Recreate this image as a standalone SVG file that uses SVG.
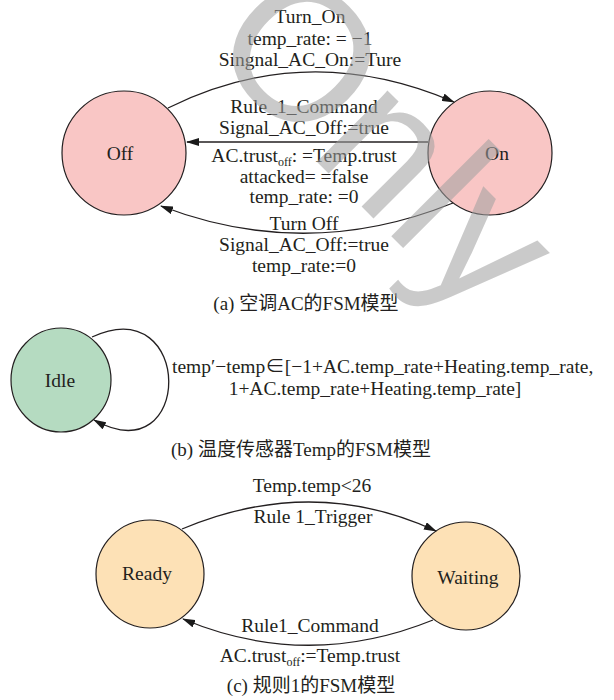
<svg xmlns="http://www.w3.org/2000/svg" width="614" height="700" viewBox="0 0 614 700">
<defs>
<marker id="arr" markerWidth="13" markerHeight="8" refX="12" refY="4" orient="auto" markerUnits="userSpaceOnUse">
<path d="M0,0 L13,4 L0,8 Z" fill="#1a1a1a"/>
</marker>
<style>
text{font-family:"Liberation Serif","Noto Sans CJK SC",serif;font-size:19.5px;fill:#231f20;text-anchor:middle}
.node{stroke:#231f20;stroke-width:1.2}
.pink{fill:#f9c6c5}
.green{fill:#b5dbc1}
.peach{fill:#fde1b6}
.edge{fill:none;stroke:#231f20;stroke-width:1.3}
.sub{font-size:12px}
.cap{font-size:19px}
.wm{font-family:"Liberation Sans",sans-serif;font-size:190px;fill:#a0a0a0;opacity:0.55;text-anchor:start}
</style>
</defs>
<rect width="614" height="700" fill="#ffffff"/>

<g id="off"><circle class="node pink" cx="124" cy="153" r="62"/><text x="120" y="160">Off</text></g>
<g id="on"><circle class="node pink" cx="490" cy="153" r="62"/><text x="497" y="160">On</text></g>
<g id="idle"><ellipse class="node green" cx="61" cy="380" rx="50" ry="52"/><text x="60" y="387">Idle</text></g>
<g id="ready"><circle class="node peach" cx="150" cy="574" r="54"/><text x="147" y="580">Ready</text></g>
<g id="waiting"><circle class="node peach" cx="466" cy="576" r="54"/><text x="468" y="584">Waiting</text></g>

<g id="connectors">
<path class="edge" d="M168,108 Q307,39 454,102" marker-end="url(#arr)"/>
<path class="edge" d="M428,142 L187,142" marker-end="url(#arr)"/>
<path class="edge" d="M453,203 Q307,262 161,206" marker-end="url(#arr)"/>
<path class="edge" d="M92,337 C194,290 194,475 94,420" marker-end="url(#arr)"/>
<path class="edge" d="M182,529 Q313,474 436,531" marker-end="url(#arr)"/>
<path class="edge" d="M433,620 Q307,671 183,619" marker-end="url(#arr)"/>
</g>

<g id="labels">
<text x="310" y="23">Turn_On</text>
<text x="310" y="44.5">temp_rate: = −1</text>
<text x="310" y="66">Singnal_AC_On:=Ture</text>
<text x="304" y="113">Rule_1_Command</text>
<text x="304" y="134">Signal_AC_Off:=true</text>
<text x="304" y="161.5">AC.trust<tspan class="sub" dy="4">off</tspan><tspan dy="-4">: =Temp.trust</tspan></text>
<text x="304" y="182.5">attacked= =false</text>
<text x="304" y="203">temp_rate: =0</text>
<text x="304" y="230">Turn Off</text>
<text x="304" y="251">Signal_AC_Off:=true</text>
<text x="304" y="272">temp_rate:=0</text>
<text x="172" y="373" style="text-anchor:start">temp′−temp∈[−1+AC.temp_rate+Heating.temp_rate,</text>
<text x="375" y="395">1+AC.temp_rate+Heating.temp_rate]</text>
<text x="312" y="492">Temp.temp&lt;26</text>
<text x="313" y="523">Rule 1_Trigger</text>
<text x="310" y="632">Rule1_Command</text>
<text x="310" y="662">AC.trust<tspan class="sub" dy="4">off</tspan><tspan dy="-4">:=Temp.trust</tspan></text>
</g>

<g id="captions">
<text class="cap" x="306" y="310">(a) 空调AC的FSM模型</text>
<text class="cap" x="301" y="456">(b) 温度传感器Temp的FSM模型</text>
<text class="cap" x="311" y="692">(c) 规则1的FSM模型</text>
</g>

<text class="wm" transform="translate(203,48) rotate(45)">Only</text>
</svg>
